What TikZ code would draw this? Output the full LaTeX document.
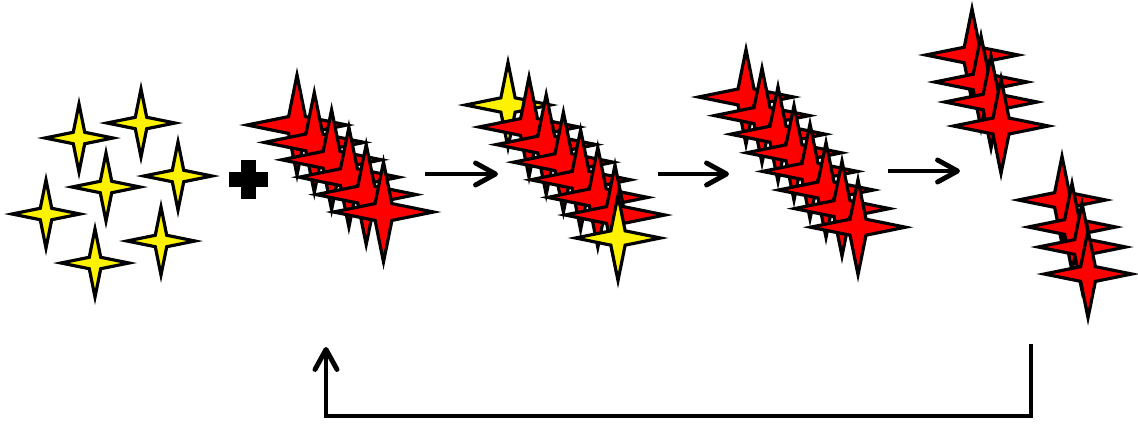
\documentclass[tikz,border=0pt]{standalone}
\usepackage{xcolor}
\usepackage{tikz}
\usetikzlibrary{arrows.meta, shapes.geometric}

\begin{document}
\begin{tikzpicture}[
    x=0.02cm, y=-0.02cm,
    spark/.style={star, star points=4, star point ratio=4.2, draw=black, line width=1.8pt, inner sep=0pt, minimum size=#1},
    yspark/.style={spark=#1, fill=yellow},
    rspark/.style={spark=#1, fill=red},
    arr/.style={-{Straight Barb[length=4mm, width=4.4mm, round]}, line width=2.8pt},
  ]
  \useasboundingbox (0,0) rectangle (1138,423);

  % free units
  \node[yspark=1.36cm] (m1) at (79,138) {};
  \node[yspark=1.36cm] (m2) at (141,123) {};
  \node[yspark=1.36cm] (m3) at (106,187) {};
  \node[yspark=1.36cm] (m4) at (178,176) {};
  \node[yspark=1.36cm] (m5) at (46,214) {};
  \node[yspark=1.36cm] (m6) at (161,241) {};
  \node[yspark=1.36cm] (m7) at (95,263) {};

  % plus sign
  \coordinate (plus) at (248,179);
  \fill (plus) ++(-19.5,-7.5) rectangle ++(39,15);
  \fill (plus) ++(-7.5,-19.5) rectangle ++(15,39);

  % seed stack
  \foreach \i in {0,...,5}
    \node[rspark=2cm] (p\i) at (297+17.3*\i, 125+17.4*\i) {};

  % stack with new units at both ends
  \node[yspark=1.7cm] (q0) at (508,105) {};
  \foreach \i in {1,...,6}
    \node[rspark=2cm] (q\i) at (529+17.2*\i-17.2, 127+17.6*\i-17.6) {};
  \node[yspark=1.7cm] (q7) at (618,238) {};

  % grown stack
  \foreach \i in {0,...,7}
    \node[rspark=1.9cm] (s\i) at (746+16*\i, 97+18.6*\i) {};

  % split halves
  \node[rspark=1.85cm] (u1) at (972,55) {};
  \node[rspark=1.85cm] (u2) at (981,82) {};
  \node[rspark=1.85cm] (u3) at (991,102) {};
  \node[rspark=1.9cm] (u4) at (1001,126) {};
  \node[rspark=1.75cm] (l1) at (1062,200) {};
  \node[rspark=1.75cm] (l2) at (1072,227) {};
  \node[rspark=1.75cm] (l3) at (1082,247) {};
  \node[rspark=1.75cm] (l4) at (1088,274) {};

  % steps
  \coordinate (a1s) at (425,174);
  \coordinate (a1e) at (498,174);
  \coordinate (a2s) at (658,174);
  \coordinate (a2e) at (729,174);
  \coordinate (a3s) at (888,171);
  \coordinate (a3e) at (960,171);
  \draw[arr] (a1s) -- (a1e);
  \draw[arr] (a2s) -- (a2e);
  \draw[arr] (a3s) -- (a3e);

  % feedback loop
  \coordinate (back) at (1031,344);
  \coordinate (low) at (1031,416);
  \coordinate (fwd) at (326,347);
  \draw[arr] (back) -- (low) -| (fwd);
\end{tikzpicture}
\end{document}
